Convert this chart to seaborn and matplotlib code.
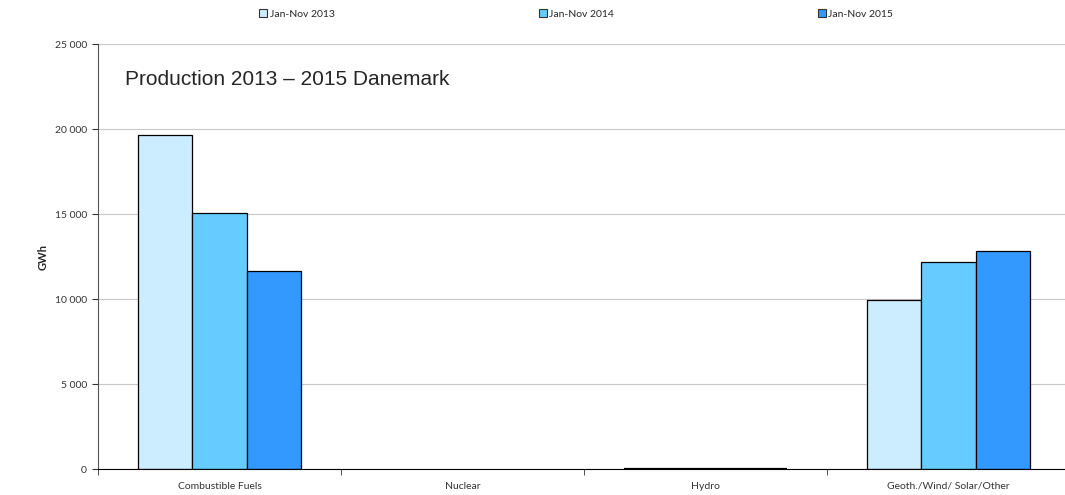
import matplotlib
matplotlib.use("Agg")
import matplotlib.pyplot as plt
import matplotlib.ticker as mticker
import seaborn as sns
import pandas as pd

categories = ["Combustible Fuels", "Nuclear", "Hydro", "Geoth./Wind/ Solar/Other"]
periods = ["Jan-Nov 2013", "Jan-Nov 2014", "Jan-Nov 2015"]
values_2013 = [19650, 0, 20, 9940]
values_2014 = [15060, 0, 18, 12200]
values_2015 = [11650, 0, 20, 12830]
colors = ["#CCECFF", "#66CCFF", "#3399FF"]

rows = []
for period, vals in zip(periods, [values_2013, values_2014, values_2015]):
    for cat, v in zip(categories, vals):
        rows.append({"category": cat, "period": period, "GWh": v})
df = pd.DataFrame(rows)

sns.set_style("white")
plt.rcParams["font.family"] = ["Lato", "DejaVu Sans"]

fig = plt.figure(figsize=(10.65, 4.95), dpi=100)
ax = fig.add_axes([0.092, 0.0525, 0.908, 0.8585])

sns.barplot(data=df, x="category", y="GWh", hue="period", palette=colors,
            saturation=1, width=0.67, edgecolor="black", linewidth=0.9,
            ax=ax, legend=False)

# zero bars: no outline; tiny hydro bars show as a thick line like the original
for p in ax.patches:
    if p.get_height() == 0:
        p.set_linewidth(0)
    elif p.get_height() < 100:
        p.set_linewidth(1.6)

ax.set_ylim(0, 25000)
ax.set_xlim(-0.5, 3.48)
ax.yaxis.set_major_locator(mticker.MultipleLocator(5000))
ax.yaxis.set_major_formatter(mticker.FuncFormatter(lambda v, p: f"{int(v):,}".replace(",", " ")))
ax.grid(axis="y", color="#c8c8c8", linewidth=0.8)
ax.set_axisbelow(True)

ax.set_xticks(range(len(categories)))
ax.set_xticklabels(categories)
ax.set_xticks([-0.5, 0.5, 1.5, 2.5], minor=True)
ax.tick_params(axis="x", which="major", length=0, labelsize=7.5, pad=9, colors="#333333")
ax.tick_params(axis="x", which="minor", length=4, direction="out", color="#333333", bottom=True)
ax.tick_params(axis="y", length=4, direction="out", left=True, labelsize=7.5, colors="#333333", pad=4)

for side in ["top", "right"]:
    ax.spines[side].set_visible(False)
ax.spines["left"].set_color("#555555")
ax.spines["bottom"].set_color("black")

ax.set_xlabel("")
ax.set_ylabel("GWh", fontsize=8, fontweight="bold", labelpad=4)

ax.text(0.028, 0.94, "Production 2013 \u2013 2015 Danemark", transform=ax.transAxes,
        fontsize=15, family="Liberation Sans", va="top", ha="left")

handles = [plt.Rectangle((0, 0), 1, 1, facecolor=c, edgecolor="#333333", linewidth=0.8) for c in colors]
fig.legend(handles, periods, loc="upper center", bbox_to_anchor=(0.541, 1.0), ncol=3,
           frameon=False, fontsize=7.5, handlelength=0.8, handleheight=0.8,
           handletextpad=0.2, columnspacing=19.6)

fig.savefig("out.png", dpi=100)
